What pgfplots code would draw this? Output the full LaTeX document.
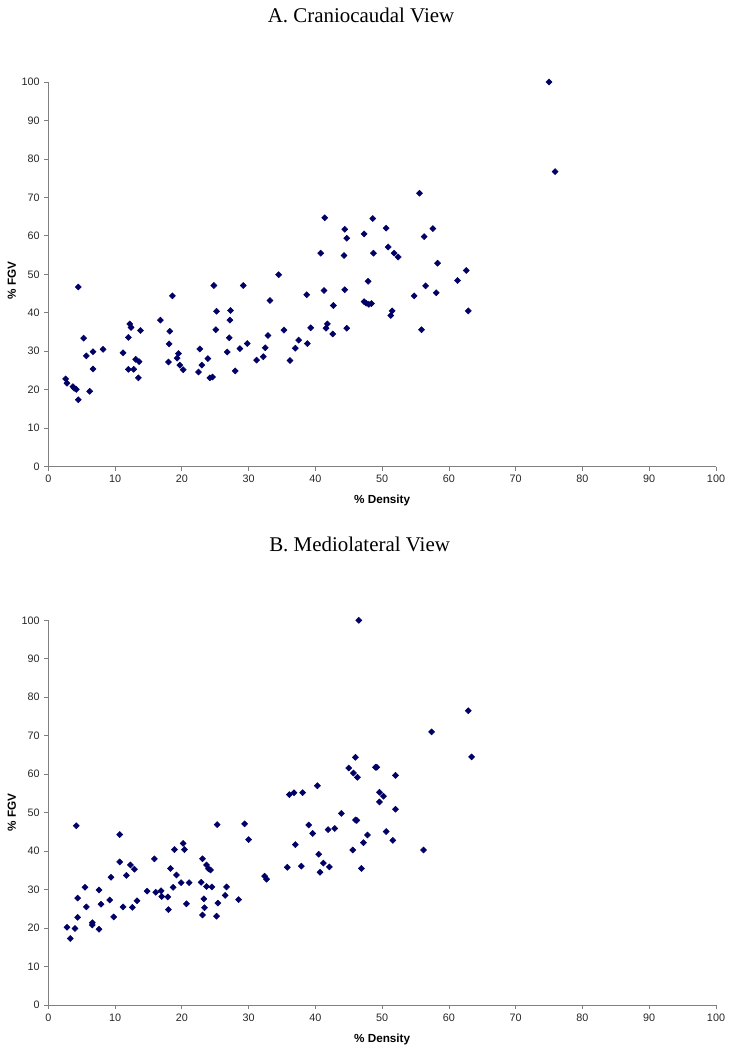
\documentclass[border=0pt]{standalone}
\usepackage{fontspec}
\setmainfont{Liberation Sans}
\newfontfamily\titlefont{Liberation Serif}
\usepackage{pgfplots}
\pgfplotsset{compat=1.18}
\definecolor{navy}{RGB}{0,0,102}
\pgfplotsset{
  scatterstyle/.style={
    width=500.8pt, height=288.5pt, scale only axis,
    xmin=0, xmax=100, ymin=0, ymax=100,
    xtick distance=10, ytick distance=10,
    axis x line=bottom, axis y line=left,
    axis line style={-, draw=gray, line width=0.7pt},
    tick style={draw=gray, line width=0.6pt},
    tick align=outside, major tick length=3pt,
    /pgf/number format/assume math mode=true,
    tick label style={font=\fontsize{8.1}{9}\selectfont, text=black!85},
  },
  dots/.style={only marks, mark=square*, mark size=1.6pt,
    mark options={rotate=45, draw=navy, fill=navy}},
}
\begin{document}
\begin{tikzpicture}
\useasboundingbox (0,0) rectangle (548.25pt,-787.5pt);
\node[font=\titlefont\fontsize{15.7}{18}\selectfont, anchor=base] at (270.75pt,-16.5pt) {A. Craniocaudal View};
\node[font=\titlefont\fontsize{15.7}{18}\selectfont, anchor=base] at (269.7pt,-413.25pt) {B. Mediolateral View};
\begin{axis}[scatterstyle, at={(36.2pt,-350pt)}, anchor=south west,
  xlabel={\fontsize{8.8}{10}\selectfont\bfseries \% Density},
  ylabel={\fontsize{8.8}{10}\selectfont\bfseries \% FGV},
  xlabel style={at={(axis description cs:0.5,0)}, anchor=center, yshift=-25.5pt},
  ylabel style={at={(axis description cs:-0.0544,0.485)}, anchor=center}]
\addplot[dots] table {
x y
2.6 22.8
2.8 21.7
3.7 20.8
3.9 20.4
4.2 20.1
4.5 17.4
4.5 46.7
5.3 33.4
5.7 28.8
6.2 19.6
6.7 29.9
6.7 25.4
8.2 30.5
11.2 29.6
12.0 25.3
12.0 33.6
12.2 37.1
12.4 36.2
12.8 25.3
13.1 27.9
13.5 23.1
13.6 27.3
13.8 35.4
16.8 38.1
18.0 27.2
18.1 31.9
18.2 35.2
18.6 44.4
19.3 28.2
19.5 29.4
19.7 26.4
20.2 25.2
22.5 24.6
22.7 30.6
23.0 26.4
23.9 28.1
24.2 23.1
24.6 23.3
24.8 47.1
25.1 35.6
25.2 40.4
26.8 29.8
27.1 33.5
27.2 38.1
27.3 40.6
28.0 24.9
28.7 30.7
29.2 47.1
29.8 32.0
31.2 27.7
32.2 28.6
32.5 30.9
32.9 34.1
33.2 43.2
34.5 49.9
35.3 35.5
36.2 27.6
37.0 30.8
37.5 32.9
38.7 44.7
38.8 32.0
39.3 36.1
40.8 55.5
41.3 45.8
41.4 64.7
41.6 36.0
41.8 37.1
42.6 34.5
42.7 41.9
44.3 54.9
44.4 61.7
44.4 46.0
44.7 59.4
44.7 36.0
47.3 60.5
47.3 42.9
47.6 42.5
47.9 48.2
48.0 42.2
48.4 42.4
48.6 64.5
48.7 55.5
50.6 62.0
50.9 57.1
51.3 39.3
51.5 40.5
51.8 55.5
52.4 54.5
54.8 44.4
55.6 71.1
55.9 35.6
56.3 59.8
56.5 47.0
57.6 61.9
58.1 45.2
58.3 52.9
61.3 48.4
62.6 51.0
62.9 40.5
75.0 100.0
75.9 76.7
};
\end{axis}
\begin{axis}[scatterstyle, at={(36.2pt,-753.75pt)}, anchor=south west,
  xlabel={\fontsize{8.8}{10}\selectfont\bfseries \% Density},
  ylabel={\fontsize{8.8}{10}\selectfont\bfseries \% FGV},
  xlabel style={at={(axis description cs:0.5,0)}, anchor=center, yshift=-25.5pt},
  ylabel style={at={(axis description cs:-0.0544,0.5)}, anchor=center}]
\addplot[dots] table {
x y
2.8 20.2
3.3 17.3
4.0 19.9
4.2 46.6
4.4 22.8
4.4 27.8
5.5 30.6
5.7 25.5
6.6 20.8
6.6 21.4
7.6 29.9
7.6 19.7
7.9 26.2
9.2 27.3
9.4 33.2
9.8 22.9
10.7 44.3
10.7 37.2
11.2 25.5
11.7 33.7
12.3 36.4
12.6 25.4
12.9 35.3
13.3 27.1
14.8 29.6
15.9 38.0
16.1 29.3
16.9 29.7
17.0 28.2
17.9 28.1
18.0 24.8
18.3 35.5
18.7 30.6
18.9 40.4
19.2 33.8
19.9 31.8
20.2 42.0
20.4 40.4
20.7 26.3
21.1 31.8
22.9 31.9
23.1 38.0
23.1 23.4
23.3 27.6
23.4 25.3
23.7 36.4
23.7 30.8
24.0 35.4
24.3 35.1
24.5 30.7
25.2 23.1
25.3 46.9
25.4 26.5
26.5 28.5
26.7 30.7
28.5 27.4
29.4 47.1
30.0 43.0
32.4 33.5
32.7 32.7
35.8 35.8
36.1 54.7
36.8 55.2
37.0 41.7
37.9 36.1
38.1 55.2
39.0 46.8
39.6 44.6
40.3 57.0
40.5 39.2
40.7 34.5
41.2 36.9
41.9 45.6
42.1 35.9
42.9 45.9
43.9 49.8
45.0 61.6
45.6 40.3
45.7 60.3
46.0 64.4
46.0 48.1
46.2 48.0
46.3 59.2
46.5 100.0
46.9 35.5
47.2 42.2
47.8 44.2
49.0 61.8
49.2 61.8
49.6 52.8
49.6 55.3
50.2 54.3
50.6 45.1
51.6 42.8
52.0 59.7
52.0 50.9
56.2 40.3
57.4 71.0
62.9 76.5
63.4 64.5
};
\end{axis}
\end{tikzpicture}
\end{document}
